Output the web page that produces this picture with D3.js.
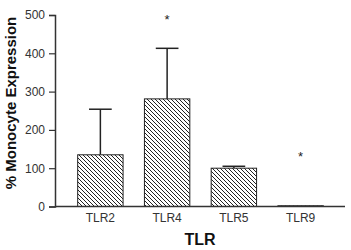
<!DOCTYPE html>
<html>
<head>
<meta charset="utf-8">
<script src="https://cdn.jsdelivr.net/npm/d3@7"></script>
<style>
body { margin: 0; background: #fff; }
svg text { font-family: Arial, "Liberation Sans", sans-serif; }
</style>
</head>
<body>
<svg id="chart" width="351" height="250"></svg>
<script>
var categories = ["TLR2", "TLR4", "TLR5", "TLR9"];
var means = [135, 281, 100, 2];
var errors = [119, 132, 5, 0];
var starred = [false, true, false, true];
var yTicks = [0, 100, 200, 300, 400, 500];

var svg = d3.select("#chart");

var x = d3.scaleBand()
    .domain(categories)
    .range([67, 334])
    .paddingInner(0.32)
    .paddingOuter(0.16);
var y = d3.scaleLinear()
    .domain([0, 500])
    .range([206.5, 15]);

// hatch fill
var pat = svg.append("defs").append("pattern")
    .attr("id", "hatch")
    .attr("patternUnits", "userSpaceOnUse")
    .attr("width", 4)
    .attr("height", 4);
pat.append("rect").attr("width", 4).attr("height", 4).attr("fill", "#fff");
pat.append("path")
    .attr("d", "M-1,-1 L5,5 M-1,3 L1,5 M3,-1 L5,1")
    .attr("stroke", "#222")
    .attr("stroke-width", 1);

var bars = svg.append("g").selectAll("g")
    .data(categories)
    .enter()
    .append("g")
    .each(function (d, i) {
        var g = d3.select(this);
        var cx = x(d) + x.bandwidth() / 2;
        if (errors[i] > 0) {
            g.append("line")
                .attr("x1", cx).attr("x2", cx)
                .attr("y1", y(means[i])).attr("y2", y(means[i] + errors[i]))
                .attr("stroke", "#222").attr("stroke-width", 1.5);
            g.append("line")
                .attr("x1", cx - x.bandwidth() / 4).attr("x2", cx + x.bandwidth() / 4)
                .attr("y1", y(means[i] + errors[i])).attr("y2", y(means[i] + errors[i]))
                .attr("stroke", "#222").attr("stroke-width", 1.5);
        }
        g.append("rect")
            .attr("x", x(d))
            .attr("y", y(means[i]))
            .attr("width", x.bandwidth())
            .attr("height", y(0) - y(means[i]))
            .attr("fill", "url(#hatch)")
            .attr("stroke", "#222")
            .attr("stroke-width", 1);
        if (starred[i]) {
            var top = means[i] + errors[i];
            g.append("text")
                .attr("x", cx)
                .attr("y", i == 3 ? y(top) - 45 : y(top) - 24)
                .attr("text-anchor", "middle")
                .attr("font-size", 13)
                .attr("fill", "#222")
                .text("*");
        }
    });

// y axis
var yAxis = svg.append("g")
    .attr("transform", "translate(55,0)")
    .call(d3.axisLeft(y).tickValues(yTicks).tickSize(6).tickPadding(4));
yAxis.select(".domain").attr("stroke", "#333").attr("stroke-width", 1.5);
yAxis.selectAll(".tick line").attr("stroke", "#333").attr("stroke-width", 1.2);
yAxis.selectAll(".tick text").attr("font-size", 12).attr("fill", "#333")
    .attr("font-family", "Arial, 'Liberation Sans', sans-serif");

// x axis
var xAxis = svg.append("g")
    .attr("transform", "translate(0," + y(0) + ")")
    .call(d3.axisBottom(x).tickSize(0).tickPadding(7));
xAxis.select(".domain").attr("d", "M55,0H345").attr("stroke", "#333").attr("stroke-width", 1.5);
xAxis.selectAll(".tick text").attr("font-size", 12).attr("fill", "#333")
    .attr("font-family", "Arial, 'Liberation Sans', sans-serif");

svg.append("text")
    .attr("x", 200)
    .attr("y", 245)
    .attr("text-anchor", "middle")
    .attr("font-size", 16)
    .attr("font-weight", "bold")
    .attr("fill", "#111")
    .text("TLR");

svg.append("text")
    .attr("transform", "translate(16,103) rotate(-90)")
    .attr("text-anchor", "middle")
    .attr("font-size", 15)
    .attr("font-weight", "bold")
    .attr("fill", "#111")
    .text("% Monocyte Expression");
</script>
</body>
</html>
